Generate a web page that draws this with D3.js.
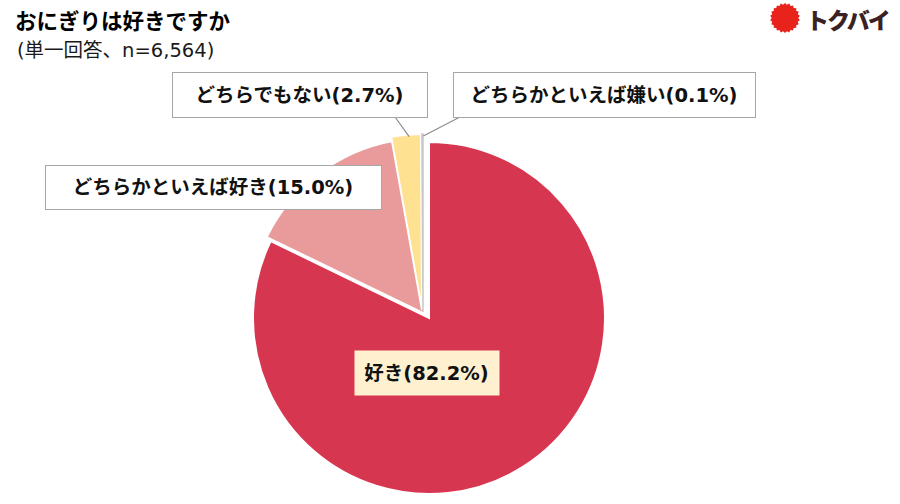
<!DOCTYPE html>
<html>
<head>
<meta charset="utf-8">
<script src="https://cdn.jsdelivr.net/npm/d3@7"></script>
<style>
  html, body { margin: 0; padding: 0; background: #fff; }
  svg { display: block; }
  text { font-family: "DejaVu Sans", "Noto Sans CJK JP", sans-serif; }
</style>
</head>
<body>
<svg id="chart" width="900" height="504"></svg>
<script>
// ---- data ----
const title = "おにぎりは好きですか";
const subtitle = "(単一回答、n=6,564)";
const logoText = "トクバイ";
const categories = ["好き", "どちらかといえば好き", "どちらでもない", "どちらかといえば嫌い"];
const values = [82.2, 15.0, 2.7, 0.1];
const percentLabels = ["82.2%", "15.0%", "2.7%", "0.1%"];

// ---- styles / layout ----
const colors = ["#D6364F", "#E99A9A", "#FFE192", "#C8C8C8"];
const cx = 429, cy = 318, R = 176;
const explode = [[0, 0], [-4, -4], [-7, -8], [-6, -8]];
// label boxes [x, y, w, h]
const boxes = [
  [354, 350, 145, 45],
  [45, 165, 336, 44],
  [172, 72, 255, 45],
  [453, 72, 302, 45]
];
const boxFill = ["#FFF1D0", "#FFFFFF", "#FFFFFF", "#FFFFFF"];
const boxStroke = ["none", "#A6A6A6", "#A6A6A6", "#A6A6A6"];
const leaderStart = [null, null, [395, 117], [460, 117]];

const svg = d3.select("#chart");

// title
svg.append("text").attr("x", 15).attr("y", 29)
  .attr("font-family", "Noto Sans CJK JP")
  .attr("font-size", 21.5).attr("font-weight", 700).attr("fill", "#000")
  .text(title);
svg.append("text").attr("x", 17).attr("y", 57)
  .attr("font-size", 19.5).attr("font-weight", 400).attr("fill", "#1a1a1a")
  .text(subtitle);

// logo
const logo = svg.append("g").attr("transform", "translate(785,18)");
const nTeeth = 22;
const burst = d3.range(nTeeth * 2).map(i => {
  const a = i * Math.PI / nTeeth;
  const r = i % 2 === 0 ? 15 : 13.3;
  return [r * Math.sin(a), -r * Math.cos(a)];
});
logo.append("path").attr("d", d3.line().curve(d3.curveLinearClosed)(burst)).attr("fill", "#E8231B");
svg.append("text").attr("x", 806).attr("y", 29)
  .attr("font-family", "Noto Sans CJK JP")
  .attr("font-size", 23).attr("font-weight", 900).attr("fill", "#3A2224")
  .attr("letter-spacing", -2)
  .text(logoText);

// pie
const pie = d3.pie().sort(null).value(d => d.v);
const arcs = pie(values.map((v, i) => ({ v, i })));
const arc = d3.arc().innerRadius(0).outerRadius(R);

const g = svg.append("g").attr("transform", `translate(${cx},${cy})`);
g.selectAll("path.slice").data(arcs).join("path")
  .attr("class", "slice")
  .attr("transform", d => `translate(${explode[d.index][0]},${explode[d.index][1]})`)
  .attr("d", arc)
  .attr("fill", d => colors[d.index])
  .attr("stroke", d => d.index === 3 ? "#C8C8C8" : "#FFFFFF")
  .attr("stroke-width", d => d.index === 3 ? 1.5 : 2)
  .attr("stroke-linejoin", "miter");

// leader lines
arcs.forEach(d => {
  const s = leaderStart[d.index];
  if (!s) return;
  const a = d.index === 3 ? d.endAngle - 0.01 : (d.startAngle + d.endAngle) / 2;
  const rr = R - 2;
  const ex = cx + explode[d.index][0] + rr * Math.sin(a);
  const ey = cy + explode[d.index][1] - rr * Math.cos(a);
  svg.append("line")
    .attr("x1", s[0]).attr("y1", s[1]).attr("x2", ex + (d.index === 3 ? 2 : 3)).attr("y2", ey)
    .attr("stroke", "#8C8C8C").attr("stroke-width", 1.2);
});

// label boxes
arcs.forEach(d => {
  const b = boxes[d.index];
  svg.append("rect")
    .attr("x", b[0] + 0.5).attr("y", b[1] + 0.5).attr("width", b[2]).attr("height", b[3])
    .attr("fill", boxFill[d.index]).attr("stroke", boxStroke[d.index]).attr("stroke-width", 1);
  svg.append("text")
    .attr("x", b[0] + b[2] / 2).attr("y", b[1] + b[3] / 2)
    .attr("dy", "0.36em")
    .attr("text-anchor", "middle")
    .attr("font-size", 19.5).attr("font-weight", 700).attr("fill", "#111")
    .text(`${categories[d.index]}(${percentLabels[d.index]})`);
});
</script>
</body>
</html>
